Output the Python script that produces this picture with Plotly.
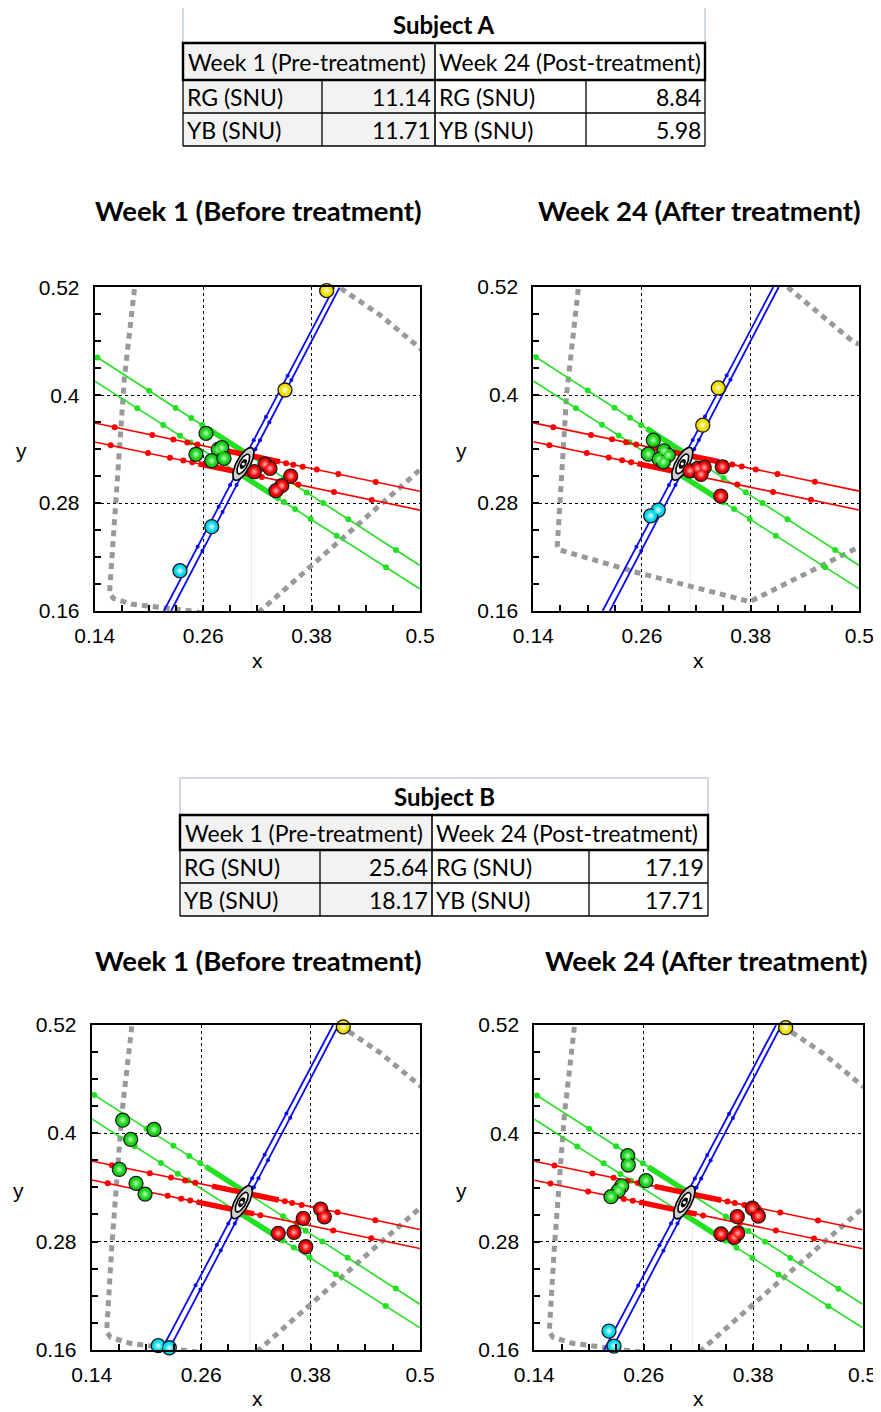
import numpy as np
import plotly.graph_objects as go

# The page body has an 8px margin, so the figure is drawn 8px smaller and
# every pixel position below is measured in the 881x1412 screenshot frame.
PAGE_OFFSET = 8
FIG_W, FIG_H = 881 - PAGE_OFFSET, 1412 - PAGE_OFFSET

# ---------------- table data ----------------
TABLE_SUBJECTS = ["Subject A", "Subject B"]
HEADER_WEEK1 = "Week 1 (Pre-treatment)"
HEADER_WEEK24 = "Week 24 (Post-treatment)"
ROW_LABELS = ["RG (SNU)", "YB (SNU)"]
SUBJ_A_WEEK1 = ["11.14", "11.71"]
SUBJ_A_WEEK24 = ["8.84", "5.98"]
SUBJ_B_WEEK1 = ["25.64", "18.17"]
SUBJ_B_WEEK24 = ["17.19", "17.71"]

PANEL_TITLES = ["Week 1 (Before treatment)", "Week 24 (After treatment)",
                "Week 1 (Before treatment)", "Week 24 (After treatment)"]

X_TICKS = [0.14, 0.26, 0.38, 0.5]
X_TICK_TEXT = ["0.14", "0.26", "0.38", "0.5"]
Y_TICKS = [0.16, 0.28, 0.4, 0.52]
Y_TICK_TEXT = ["0.16", "0.28", "0.4", "0.52"]

# ---------------- confusion lines (shared by all panels) ----------------
RED_UP_LINE_X = [0.14, 0.5]
RED_UP_LINE_Y = [0.369, 0.2932]
RED_LO_LINE_X = [0.14, 0.5]
RED_LO_LINE_Y = [0.348, 0.2722]
GREEN_UP_LINE_X = [0.14, 0.5]
GREEN_UP_LINE_Y = [0.4439, 0.2106]
GREEN_LO_LINE_X = [0.14, 0.5]
GREEN_LO_LINE_Y = [0.4156, 0.1845]
BLUE_L_LINE_X = [0.2165, 0.405]
BLUE_L_LINE_Y = [0.16, 0.52]
BLUE_R_LINE_X = [0.2245, 0.411]
BLUE_R_LINE_Y = [0.16, 0.52]

# stimulus dots along the lines
RED_UP_DOTS_X = [0.1621, 0.2037, 0.227, 0.2425, 0.2536, 0.3518, 0.3598, 0.3702, 0.3857, 0.4096, 0.451]
RED_UP_DOTS_Y = [0.3643, 0.3556, 0.3507, 0.3474, 0.3451, 0.3244, 0.3227, 0.3205, 0.3173, 0.3123, 0.3035]
RED_LO_DOTS_X = [0.1577, 0.199, 0.2233, 0.2381, 0.2480, 0.3250, 0.3653, 0.4048, 0.4466]
RED_LO_DOTS_Y = [0.3443, 0.3356, 0.3305, 0.3274, 0.3253, 0.3091, 0.3006, 0.2923, 0.2835]
GREEN_UP_DOTS_X = [0.1429, 0.2001, 0.2296, 0.2469, 0.259, 0.350, 0.3746, 0.393, 0.4207, 0.4734]
GREEN_UP_DOTS_Y = [0.442, 0.405, 0.3858, 0.3746, 0.3668, 0.3078, 0.2919, 0.28, 0.262, 0.2279]
GREEN_LO_DOTS_X = [0.1871, 0.2159, 0.2344, 0.2460, 0.3495, 0.3617, 0.379, 0.4078, 0.4624]
GREEN_LO_DOTS_Y = [0.3854, 0.3669, 0.355, 0.3475, 0.2811, 0.2733, 0.2622, 0.2437, 0.2086]
BLUE_L_DOTS_X = [0.2539, 0.2772, 0.2898, 0.295, 0.3107, 0.316, 0.3296, 0.3535]
BLUE_L_DOTS_Y = [0.2315, 0.276, 0.30, 0.31, 0.34, 0.35, 0.376, 0.4217]
BLUE_R_DOTS_X = [0.2592, 0.2815, 0.297, 0.3022, 0.3178, 0.3229, 0.3333, 0.3577]
BLUE_R_DOTS_Y = [0.227, 0.27, 0.30, 0.31, 0.34, 0.35, 0.37, 0.417]

# densely sampled segments near the centre (appear as thick bands)
RED_UP_DENSE_X = [0.272, 0.345]
RED_UP_DENSE_Y = [0.3412, 0.3259]
RED_LO_DENSE_X = [0.255, 0.318]
RED_LO_DENSE_Y = [0.3238, 0.3105]
GREEN_UP_DENSE_X = [0.265, 0.305]
GREEN_UP_DENSE_Y = [0.3629, 0.337]
GREEN_LO_DENSE_X = [0.300, 0.345]
GREEN_LO_DENSE_Y = [0.3129, 0.284]

# faint reference line
WHITE_REF_X = [0.3135, 0.3135]
WHITE_REF_Y = [0.16, 0.305]

# centre ellipse (background chromaticity)
ELLIPSE_CX = 0.3045
ELLIPSE_CY = 0.3235
ELLIPSE_ANGLE_DEG = 62
ELLIPSE_SEMI_A = [0.0203, 0.0122, 0.0052]
ELLIPSE_SEMI_B = [0.0076, 0.0047, 0.0023]

# gray dotted boundary curves
GRAY_A_X = [0.186, 0.1839, 0.1729, 0.1619, 0.1564, 0.1606, 0.182, 0.2478, 0.262, None,
            0.312, 0.3248, 0.3825, 0.4447, 0.5, 0.51, None,
            0.404, 0.4151, 0.4557, 0.5, 0.51]
GRAY_A_Y = [0.53, 0.5173, 0.4197, 0.2724, 0.1802, 0.174, 0.1674, 0.16, 0.157, None,
            0.15, 0.1615, 0.212, 0.2687, 0.317, 0.326, None,
            0.528, 0.517, 0.4892, 0.452, 0.444]
GRAY_B_X = [0.191, 0.1897, 0.1769, 0.1665, 0.168, 0.2578, 0.3793, 0.5, 0.51, None,
            0.412, 0.4216, 0.4934, 0.51]
GRAY_B_Y = [0.53, 0.5193, 0.4017, 0.2330, 0.2282, 0.2019, 0.1704, 0.2314, 0.236, None,
            0.528, 0.5193, 0.459, 0.453]

# ---------------- subject responses ----------------
A1_RED_X = [0.3285, 0.334, 0.3166, 0.3569, 0.347, 0.3406]
A1_RED_Y = [0.3232, 0.3187, 0.3149, 0.3101, 0.2994, 0.2938]
A1_GREEN_X = [0.2632, 0.2768, 0.2806, 0.2521, 0.2695, 0.2831]
A1_GREEN_Y = [0.3576, 0.3398, 0.3416, 0.3343, 0.3272, 0.3298]
A1_CYAN_X = [0.2695, 0.2344]
A1_CYAN_Y = [0.2538, 0.2048]
A1_YELLOW_X = [0.3967, 0.3506]
A1_YELLOW_Y = [0.5163, 0.4058]

A24_RED_X = [0.313, 0.3215, 0.3288, 0.3252, 0.3487, 0.347]
A24_RED_Y = [0.3158, 0.3184, 0.3195, 0.3118, 0.3202, 0.2877]
A24_GREEN_X = [0.2725, 0.2843, 0.2891, 0.267, 0.2791, 0.2836]
A24_GREEN_Y = [0.3498, 0.338, 0.3332, 0.3343, 0.3287, 0.3257]
A24_CYAN_X = [0.278, 0.2696]
A24_CYAN_Y = [0.2721, 0.2658]
A24_YELLOW_X = [0.3443, 0.3271]
A24_YELLOW_Y = [0.4079, 0.3665]

B1_RED_X = [0.3911, 0.3951, 0.372, 0.3446, 0.3618, 0.3747]
B1_RED_Y = [0.3159, 0.3073, 0.3056, 0.289, 0.2901, 0.2742]
B1_GREEN_X = [0.174, 0.2083, 0.1828, 0.1703, 0.1886, 0.1985]
B1_GREEN_Y = [0.4142, 0.4039, 0.3929, 0.3597, 0.3443, 0.3324]
B1_CYAN_X = [0.213, 0.2251]
B1_CYAN_Y = [0.1648, 0.1625]
B1_YELLOW_X = [0.4159]
B1_YELLOW_Y = [0.5174]

B24_RED_X = [0.379, 0.3856, 0.3625, 0.3447, 0.3592, 0.363]
B24_RED_Y = [0.317, 0.3084, 0.3077, 0.2885, 0.2848, 0.2893]
B24_GREEN_X = [0.2424, 0.243, 0.2624, 0.2358, 0.2321, 0.2241]
B24_GREEN_Y = [0.3752, 0.3649, 0.3476, 0.3417, 0.3365, 0.3298]
B24_CYAN_X = [0.2219, 0.2274]
B24_CYAN_Y = [0.181, 0.1644]
B24_YELLOW_X = [0.4156]
B24_YELLOW_Y = [0.517]

# ---------------- styling ----------------
RED = "#ff0000"
GREEN = "#22e022"
BLUE = "#0a0af0"
GRAY = "#999999"
TICK_FONT = dict(family="Liberation Sans, Arial, sans-serif", size=21, color="black")
TABLE_FONT = "Lato, Carlito, Calibri, sans-serif"

# panel boxes in screenshot pixels: left, top, right, bottom
PANEL_BOX = [
    (94.7, 287.3, 420.0, 611.0),
    (533.3, 287.0, 859.3, 611.0),
    (91.7, 1024.5, 420.0, 1350.0),
    (534.3, 1025.0, 862.7, 1350.0),
]

PANELS = [
    dict(red=(A1_RED_X, A1_RED_Y), green=(A1_GREEN_X, A1_GREEN_Y), cyan=(A1_CYAN_X, A1_CYAN_Y),
         yellow=(A1_YELLOW_X, A1_YELLOW_Y), gray=(GRAY_A_X, GRAY_A_Y)),
    dict(red=(A24_RED_X, A24_RED_Y), green=(A24_GREEN_X, A24_GREEN_Y), cyan=(A24_CYAN_X, A24_CYAN_Y),
         yellow=(A24_YELLOW_X, A24_YELLOW_Y), gray=(GRAY_B_X, GRAY_B_Y)),
    dict(red=(B1_RED_X, B1_RED_Y), green=(B1_GREEN_X, B1_GREEN_Y), cyan=(B1_CYAN_X, B1_CYAN_Y),
         yellow=(B1_YELLOW_X, B1_YELLOW_Y), gray=(GRAY_A_X, GRAY_A_Y)),
    dict(red=(B24_RED_X, B24_RED_Y), green=(B24_GREEN_X, B24_GREEN_Y), cyan=(B24_CYAN_X, B24_CYAN_Y),
         yellow=(B24_YELLOW_X, B24_YELLOW_Y), gray=(GRAY_A_X, GRAY_A_Y)),
]


def pxx(v):
    return (v - PAGE_OFFSET) / FIG_W


def pxy(v):
    return 1 - (v - PAGE_OFFSET) / FIG_H


fig = go.Figure()


def ellipse_points(a, b):
    t = np.linspace(0, 2 * np.pi, 73)
    ang = np.deg2rad(ELLIPSE_ANGLE_DEG)
    ex = a * np.cos(t)
    ey = b * np.sin(t)
    xs = ELLIPSE_CX + ex * np.cos(ang) - ey * np.sin(ang)
    ys = ELLIPSE_CY + ex * np.sin(ang) + ey * np.cos(ang)
    return xs, ys


for i, p in enumerate(PANELS):
    sfx = "" if i == 0 else str(i + 1)
    xa, ya = "x" + sfx, "y" + sfx
    common = dict(xaxis=xa, yaxis=ya, showlegend=False, hoverinfo="skip")

    fig.add_trace(go.Scatter(x=WHITE_REF_X, y=WHITE_REF_Y, mode="lines",
                             line=dict(color="#ececec", width=1), **common))
    fig.add_trace(go.Scatter(x=p["gray"][0], y=p["gray"][1], mode="lines",
                             line=dict(color=GRAY, width=5, dash="6px,5px"), **common))

    for lx, ly, dx, dy, sx, sy in [
        (GREEN_UP_LINE_X, GREEN_UP_LINE_Y, GREEN_UP_DOTS_X, GREEN_UP_DOTS_Y, GREEN_UP_DENSE_X, GREEN_UP_DENSE_Y),
        (GREEN_LO_LINE_X, GREEN_LO_LINE_Y, GREEN_LO_DOTS_X, GREEN_LO_DOTS_Y, GREEN_LO_DENSE_X, GREEN_LO_DENSE_Y),
    ]:
        fig.add_trace(go.Scatter(x=lx, y=ly, mode="lines", line=dict(color=GREEN, width=1.6), **common))
        fig.add_trace(go.Scatter(x=sx, y=sy, mode="lines", line=dict(color=GREEN, width=5.5), **common))
        fig.add_trace(go.Scatter(x=dx, y=dy, mode="markers", marker=dict(color=GREEN, size=6), **common))

    for lx, ly, dx, dy, sx, sy in [
        (RED_UP_LINE_X, RED_UP_LINE_Y, RED_UP_DOTS_X, RED_UP_DOTS_Y, RED_UP_DENSE_X, RED_UP_DENSE_Y),
        (RED_LO_LINE_X, RED_LO_LINE_Y, RED_LO_DOTS_X, RED_LO_DOTS_Y, RED_LO_DENSE_X, RED_LO_DENSE_Y),
    ]:
        fig.add_trace(go.Scatter(x=lx, y=ly, mode="lines", line=dict(color=RED, width=1.6), **common))
        fig.add_trace(go.Scatter(x=sx, y=sy, mode="lines", line=dict(color=RED, width=5.5), **common))
        fig.add_trace(go.Scatter(x=dx, y=dy, mode="markers", marker=dict(color=RED, size=6), **common))

    for lx, ly, dx, dy in [
        (BLUE_L_LINE_X, BLUE_L_LINE_Y, BLUE_L_DOTS_X, BLUE_L_DOTS_Y),
        (BLUE_R_LINE_X, BLUE_R_LINE_Y, BLUE_R_DOTS_X, BLUE_R_DOTS_Y),
    ]:
        fig.add_trace(go.Scatter(x=lx, y=ly, mode="lines", line=dict(color=BLUE, width=1.8), **common))
        fig.add_trace(go.Scatter(x=dx, y=dy, mode="markers", marker=dict(color=BLUE, size=4), **common))

    # centre ellipse rings
    fills = ["#d0d0d0", "#ffffff", "#111111"]
    for a, b, fc in zip(ELLIPSE_SEMI_A, ELLIPSE_SEMI_B, fills):
        ex, ey = ellipse_points(a, b)
        fig.add_trace(go.Scatter(x=ex, y=ey, mode="lines", fill="toself", fillcolor=fc,
                                 line=dict(color="black", width=1.6), **common))
    fig.add_trace(go.Scatter(x=[ELLIPSE_CX], y=[ELLIPSE_CY], mode="markers",
                             marker=dict(color="white", size=3), **common))

    # subject response spheres
    for key, col, hi in [("green", "#18d018", "#b8ffb8"), ("red", "#ee0000", "#ffb4b4"),
                         ("cyan", "#00d8f0", "#e8ffff"), ("yellow", "#f0dc00", "#ffffe0")]:
        fig.add_trace(go.Scatter(x=p[key][0], y=p[key][1], mode="markers", cliponaxis=False,
                                 marker=dict(color=col, size=14,
                                             line=dict(color="#1a1a1a", width=1.3)),
                                 **common))
        fig.add_trace(go.Scatter(x=p[key][0], y=p[key][1], mode="markers", cliponaxis=False,
                                 marker=dict(color=col, size=9,
                                             gradient=dict(type="radial", color=hi),
                                             line=dict(width=0)),
                                 **common))

layout_axes = {}
for i, (l, t, r, b) in enumerate(PANEL_BOX):
    sfx = "" if i == 0 else str(i + 1)
    xdom = [pxx(l), pxx(r)]
    ydom = [pxy(b), pxy(t)]
    ax_common = dict(ticks="inside", ticklen=6, tickwidth=1.5, tickcolor="black",
                     showline=True, linewidth=2, linecolor="black", mirror=True,
                     showgrid=True, gridcolor="black", gridwidth=1.3, griddash="dot",
                     zeroline=False, tickfont=TICK_FONT,
                     fixedrange=True, automargin=False)
    layout_axes["xaxis" + sfx] = dict(domain=xdom, range=[0.14, 0.5], tickvals=X_TICKS,
                                      ticktext=X_TICK_TEXT, anchor="y" + sfx, ticklabelstandoff=5,
                                      minor=dict(tick0=0.14, dtick=0.03, ticks="inside", ticklen=6,
                                                 tickwidth=1.5, tickcolor="black", showgrid=False),
                                      **ax_common)
    layout_axes["yaxis" + sfx] = dict(domain=ydom, range=[0.16, 0.52], tickvals=Y_TICKS,
                                      ticktext=Y_TICK_TEXT, anchor="x" + sfx, ticklabelstandoff=9,
                                      minor=dict(tick0=0.16, dtick=0.03, ticks="inside", ticklen=6,
                                                 tickwidth=1.5, tickcolor="black", showgrid=False),
                                      **ax_common)

shapes = []
annotations = []


def rect(x0, y0, x1, y1, line_color=None, width=0, fill=None):
    d = dict(type="rect", xref="paper", yref="paper", x0=pxx(x0), x1=pxx(x1),
             y0=pxy(y1), y1=pxy(y0), layer="above")
    d["line"] = dict(color=line_color or "rgba(0,0,0,0)", width=width)
    if fill:
        d["fillcolor"] = fill
    shapes.append(d)


def seg(x0, y0, x1, y1, width=1.3, color="black"):
    shapes.append(dict(type="line", xref="paper", yref="paper", x0=pxx(x0), x1=pxx(x1),
                       y0=pxy(y0), y1=pxy(y1), line=dict(color=color, width=width), layer="above"))


def text(s, x, y, anchor="left", size=21, bold=False, font=TABLE_FONT):
    annotations.append(dict(text=("<b>%s</b>" % s) if bold else s, x=pxx(x), y=pxy(y),
                            xref="paper", yref="paper", xanchor=anchor, yanchor="middle",
                            showarrow=False, font=dict(family=font, size=size, color="black")))


def draw_table(cols, rows, subject, week1_vals, week24_vals):
    x0, x1, x2, x3, x4 = cols
    y0, y1, y2, y3, y4 = rows
    rect(x0, y0, x4, y1, line_color="#c4cddd", width=1.5, fill="white")
    rect(x0, y1, x2, y4, fill="#f2f2f2")
    for yy in (y3, y4):
        seg(x0, yy, x4, yy)
    for xx in (x1, x3):
        seg(xx, y2, xx, y4)
    for xx in (x0, x4):
        seg(xx, y1, xx, y4)
    seg(x2, y1, x2, y4, width=1.6)
    rect(x0, y1, x4, y2, line_color="black", width=2.4)
    text(subject, (x0 + x4) / 2, (y0 + y1) / 2, anchor="center", size=24, bold=True)
    text(HEADER_WEEK1, x0 + 3, (y1 + y2) / 2, size=23)
    text(HEADER_WEEK24, x2 + 2, (y1 + y2) / 2, size=23)
    for k, (ya, yb) in enumerate([(y2, y3), (y3, y4)]):
        ym = (ya + yb) / 2
        text(ROW_LABELS[k], x0 + 2, ym, size=23)
        text(week1_vals[k], x2 - 2, ym, anchor="right", size=23)
        text(ROW_LABELS[k], x2 + 2, ym, size=23)
        text(week24_vals[k], x4 - 2, ym, anchor="right", size=23)


draw_table((183, 322, 435, 586, 705), (7, 43, 80, 113, 146), TABLE_SUBJECTS[0], SUBJ_A_WEEK1, SUBJ_A_WEEK24)
draw_table((180, 320, 432, 589, 708), (778, 815, 850, 883, 916), TABLE_SUBJECTS[1], SUBJ_B_WEEK1, SUBJ_B_WEEK24)

TITLE_POS = [(259, 210), (699, 210), (259, 961), (706, 961)]
for s, (x, y) in zip(PANEL_TITLES, TITLE_POS):
    text(s, x, y, anchor="center", size=27.5, bold=True)

AXIS_FONT = "Liberation Sans, Arial, sans-serif"
for (x, y) in [(257, 660), (698, 660), (257, 1398), (698, 1398)]:
    text("x", x, y, anchor="center", size=21, font=AXIS_FONT)
for (x, y) in [(21, 450), (461, 450), (18, 1190), (461, 1190)]:
    text("y", x, y, anchor="center", size=21, font=AXIS_FONT)

fig.update_layout(width=FIG_W, height=FIG_H, margin=dict(l=0, r=0, t=0, b=0, autoexpand=False),
                  paper_bgcolor="white", plot_bgcolor="white",
                  shapes=shapes, annotations=annotations, **layout_axes)

fig.write_html("out.html")
